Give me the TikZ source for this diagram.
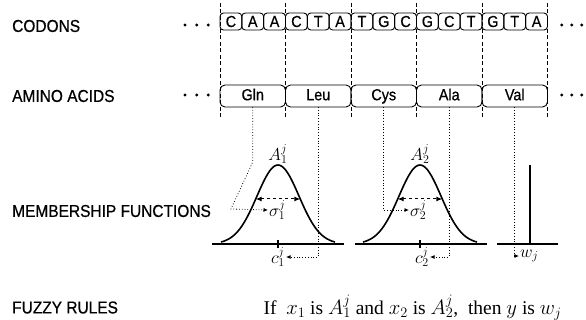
\documentclass[tikz,border=0pt]{standalone}
\usepackage{fontspec}
\setmainfont{Liberation Serif}
\newfontfamily\labfont[FakeStretch=0.9, FakeBold=0.6]{Liberation Sans}
\usetikzlibrary{arrows.meta,calc}
\tikzset{
  rowlab/.style={font=\labfont\fontsize{17.2}{19}\selectfont, anchor=west, inner sep=0pt},
  cbox/.style={draw, rounded corners=3.5pt, line width=0.9pt, minimum width=21.83pt,
      minimum height=17pt, inner sep=0pt, outer sep=0pt, font=\labfont\fontsize{16}{17}\selectfont},
  abox/.style={draw, rounded corners=5pt, line width=0.9pt, minimum width=65.5pt,
      minimum height=22pt, inner sep=0pt, outer sep=0pt, text height=11.5pt, text depth=3pt,
      font=\labfont\fontsize{16}{17}\selectfont},
  bnd/.style={dash pattern=on 4pt off 2.5pt, line width=0.7pt},
  dlink/.style={dotted, line width=0.8pt, -{Latex[length=4.5pt,width=4pt]}},
  crv/.style={line width=1.6pt},
  axl/.style={line width=1.1pt},
  sarr/.style={dashed, line width=1pt, {Latex[length=6pt,width=5pt]}-{Latex[length=6pt,width=5pt]}},
  mlab/.style={font=\fontsize{17}{19}\selectfont, inner sep=1pt},
}

\begin{document}
\begin{tikzpicture}[x=1pt, y=-1pt]
  \useasboundingbox (0,0) rectangle (586,320);
  % row labels
  \node[rowlab] (lcod) at (12,26) {CODONS};
  \node[rowlab] (lami) at (12,96) {AMINO ACIDS};
  \node[rowlab] (lmem) at (12,211) {MEMBERSHIP FUNCTIONS};
  \node[rowlab] (lfuz) at (12,307.5) {FUZZY RULES};
  % codon boundaries
  \foreach \k in {0,...,5}
    \draw[bnd] ({220+65.5*\k},3) -- ({220+65.5*\k},117);
  % codons
  \foreach \c [count=\i] in {C,A,A,C,T,A,T,G,C,G,C,T,G,T,A}
    \node[cbox] (cod\i) at ({220+21.833*(\i-0.5)},21.5) {\c};
  % amino acids
  \node[abox] (gln) at (252.75,96) {Gln};
  \node[abox] (leu) at (318.25,96) {Leu};
  \node[abox] (cys) at (383.75,96) {Cys};
  \node[abox] (ala) at (449.25,96) {Ala};
  \node[abox] (val) at (514.75,96) {Val};
  % ellipses
  \foreach \y in {25,95} {
    \foreach \x in {185,196.7,208.3,561.7,571.7,581.7}
      \fill (\x,\y) circle (1.6pt);
  }
  % first membership function
  \draw[axl] (212,244) -- (344,244);
  \draw[crv] plot[domain=-57:57, samples=61, smooth] ({278+\x},{244-79*exp(-\x*\x/882)});
  \draw[axl] (278,240) -- (278,248);
  \draw[sarr] (255.7,199) -- (300.3,199);
  \node[mlab, anchor=south] (aone) at (278,165) {$A_1^j$};
  \node[mlab, anchor=west] (sone) at (268,210) {$\sigma_1^j$};
  \node[mlab] (cone) at (278,257) {$c_1^j$};
  % second membership function
  \draw[axl] (355,244) -- (487,244);
  \draw[crv] plot[domain=-57:57, samples=61, smooth] ({420+\x},{244-79*exp(-\x*\x/882)});
  \draw[axl] (420,240) -- (420,248);
  \draw[sarr] (397.7,199) -- (442.3,199);
  \node[mlab, anchor=south] (atwo) at (420,165) {$A_2^j$};
  \node[mlab, anchor=west] (stwo) at (409,210) {$\sigma_2^j$};
  \node[mlab] (ctwo) at (422,257) {$c_2^j$};
  % singleton
  \draw[axl] (497,244) -- (558,244);
  \draw[line width=1.3pt] (530,244) -- (530,165);
  \node[mlab, anchor=west] (wj) at (519,256) {$w_j$};
  % links from the amino acids
  \draw[dlink] (gln.south) -- ++(0,55) -- (231,209) -- (sone.west);
  \draw[dlink] (leu.south) |- (cone.east);
  \draw[dlink] (cys.south) |- (stwo.west);
  \draw[dlink] (ala.south) |- (ctwo.east);
  \draw[dlink] (val.south) |- (wj.west);
  % rule
  \node[anchor=west, font=\fontsize{19.5}{21}\selectfont] (rule) at (260,307.5)
    {If\ \ $x_1$ is $A_1^j$ and $x_2$ is $A_2^j$,\ \ then $y$ is $w_j$};
\end{tikzpicture}
\end{document}
